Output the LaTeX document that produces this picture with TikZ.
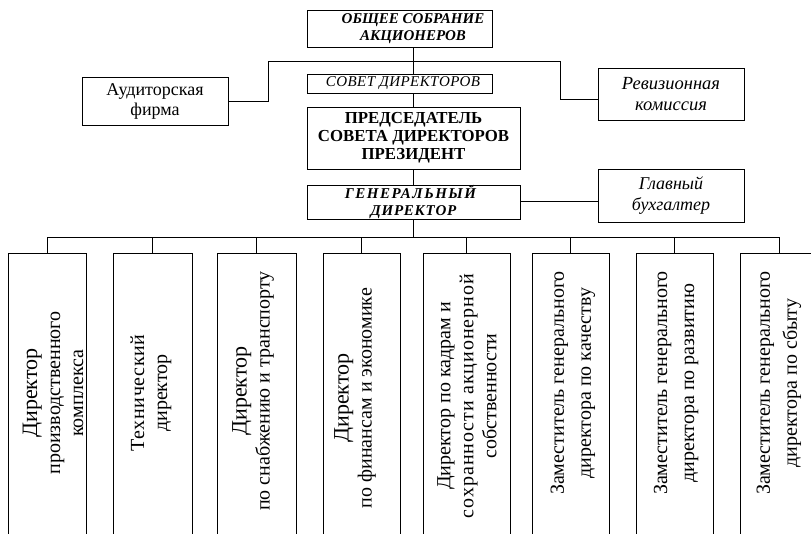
\documentclass[tikz,border=0pt]{standalone}
\usepackage{fontspec}
\setmainfont{Liberation Serif}
\begin{document}
\begin{tikzpicture}[x=1pt,y=-1pt,line width=1pt,
  box/.style={draw,inner sep=0pt,align=center},
  ttl/.style={inner sep=0pt,align=center},
  vbox/.style={draw,inner sep=0pt,minimum height=300pt,anchor=north},
  vtxt/.style={inner sep=0pt,align=center,rotate=90,font=\fontsize{20}{23}\selectfont},
  ztxt/.style={vtxt,font=\fontsize{20}{27}\selectfont},
  conn/.style={draw,line width=1pt}]
\useasboundingbox (0,0) rectangle (811,533);
\clip (0,0) rectangle (811,533);
% top boxes
\node[box,minimum width=185pt,minimum height=37pt] (gsm) at (399.5,28.5) {};
\node[ttl,font=\fontsize{15}{16.5}\selectfont\bfseries\itshape] (gsmt) at (413,28.5) {ОБЩЕЕ СОБРАНИЕ\\АКЦИОНЕРОВ};
\node[box,minimum width=185pt,minimum height=19pt] (sov) at (399.5,83.5) {};
\node[ttl,font=\fontsize{15}{16}\selectfont\itshape\addfontfeature{LetterSpace=3}] (sovt) at (403,83.5) {СОВЕТ ДИРЕКТОРОВ};
\node[box,minimum width=146pt,minimum height=48pt,font=\fontsize{18}{20}\selectfont] (aud) at (155,101) {Аудиторская\\фирма};
\node[box,minimum width=146pt,minimum height=52pt,font=\fontsize{18.5}{21}\selectfont\itshape] (rev) at (671,94) {Ревизионная\\комиссия};
\node[box,minimum width=213pt,minimum height=62pt,font=\fontsize{16.8}{18}\selectfont\bfseries] (pres) at (413.5,138) {ПРЕДСЕДАТЕЛЬ\\СОВЕТА ДИРЕКТОРОВ\\ПРЕЗИДЕНТ};
\node[box,minimum width=213pt,minimum height=34pt,font=\fontsize{15}{16.5}\selectfont\bfseries\itshape] (gen) at (413.5,202) {{\addfontfeature{LetterSpace=10}ГЕНЕРАЛЬНЫЙ}\hspace*{6pt}\\{\addfontfeature{LetterSpace=5}ДИРЕКТОР}};
\node[box,minimum width=146pt,minimum height=53pt,font=\fontsize{18}{21}\selectfont\itshape] (glav) at (671,195.5) {Главный\\бухгалтер};
% connectors top
\coordinate (bar) at (0,61);
\coordinate (audc) at (268,0);
\coordinate (revc) at (560,0);
\draw[conn] (pres.north |- gsm.south) -- (pres.north |- sov.north);
\draw[conn] (audc |- bar) -- (revc |- bar);
\draw[conn] (aud.east) -- (audc |- aud.east) -- (audc |- bar);
\draw[conn] (revc |- bar) -- (revc |- 0,99) -- (rev.west |- 0,99);
\draw[conn] (pres.north |- sov.south) -- (pres.north);
\draw[conn] (pres.south) -- (gen.north);
\draw[conn] (gen.east |- 0,201) -- (glav.west |- 0,201);
% bottom boxes
\coordinate (bus) at (0,237);
\node[vbox,minimum width=78pt] (b1) at (47,253) {};
\node[vbox,minimum width=79pt] (b2) at (152.5,253) {};
\node[vbox,minimum width=79pt] (b3) at (256.5,253) {};
\node[vbox,minimum width=77pt] (b4) at (361.5,253) {};
\node[vbox,minimum width=87pt] (b5) at (466.5,253) {};
\node[vbox,minimum width=77pt] (b6) at (570.5,253) {};
\node[vbox,minimum width=77pt] (b7) at (674.5,253) {};
\node[vbox,minimum width=78pt] (b8) at (779,253) {};
\draw[conn] (gen.south) -- (gen.south |- bus);
\draw[conn] (b1.north |- bus) -- (b8.north |- bus);
\foreach \b in {b1,b2,b3,b4,b5,b6,b7,b8} \draw[conn] (\b.north |- bus) -- (\b.north);
% texts
\node[vtxt] (t1) at (53,393) {{\fontsize{22}{22}\selectfont Директор}\\производственного\\комплекса};
\node[vtxt] (t2) at (151,393) {Т{\addfontfeature{LetterSpace=3}ехнический}\\директор};
\node[vtxt] (t3) at (253,391) {{\fontsize{22}{22}\selectfont Директор}\\по снабжению и транспорту};
\node[vtxt] (t4) at (355,398) {{\fontsize{22}{22}\selectfont Директор}\\по финансам и  экономике};
\node[vtxt] (t5) at (467,396) {Директор по кадрам и\\{\addfontfeature{LetterSpace=5}сохранности акционерной}\\собственности};
\node[ztxt] (t6) at (573,383) {Заместитель генерального\\директора по качеству};
\node[ztxt] (t7) at (676,383) {Заместитель генерального\\директора по развитию};
\node[ztxt] (t8) at (779,383) {Заместитель генерального\\директора по сбыту};
\end{tikzpicture}
\end{document}
